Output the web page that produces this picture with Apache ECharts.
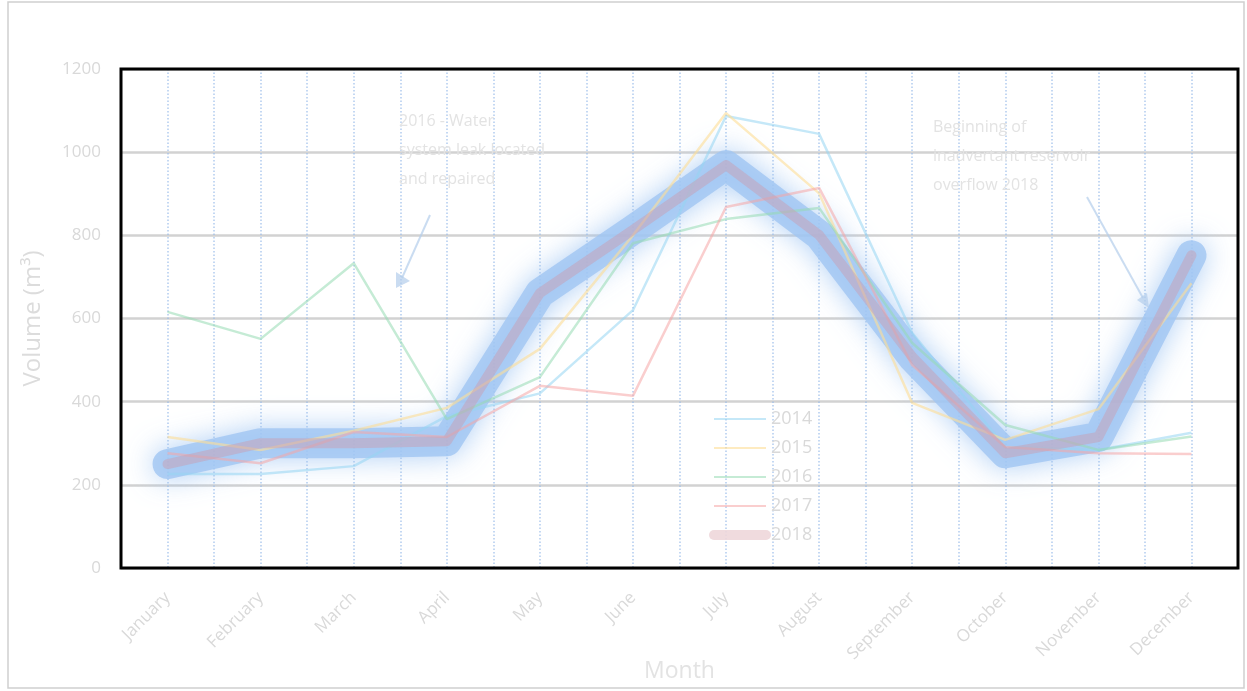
<!DOCTYPE html>
<html><head><meta charset="utf-8">
<script src="https://cdn.jsdelivr.net/npm/echarts@6/dist/echarts.min.js"></script>
<style>html,body{margin:0;padding:0;background:#fff}#c{width:1247px;height:691px}</style>
</head><body><div id="c"></div>
<script>
const months = ['January','February','March','April','May','June','July','August','September','October','November','December'];
const y2014 = [226, 226, 245, 365, 420, 620, 1087, 1044, 565, 291, 284, 325];
const y2015 = [315, 284, 330, 385, 527, 800, 1094, 901, 397, 308, 382, 685];
const y2016 = [616, 551, 733, 358, 459, 781, 839, 866, 541, 344, 284, 316];
const y2017 = [276, 252, 327, 315, 438, 414, 868, 914, 488, 291, 276, 274];
const y2018 = [250, 300, 300, 305, 661, 813, 969, 801, 508, 276, 315, 752];
const yTicks = [0, 200, 400, 600, 800, 1000, 1200];

const chart = echarts.init(document.getElementById('c'));
const lbl = '#d9d9d9';
function thin(name, data, color) {
  return {name, type:'line', data, symbol:'none', z:3,
    lineStyle:{color, width:2.5}, itemStyle:{color}};
}
chart.setOption({
  animation:false,
  backgroundColor:'#fff',
  grid:{left:121, top:69, right:9, bottom:123, show:true, borderColor:'#000', borderWidth:3, z:10,
    containLabel:false, outerBoundsMode:'none'},
  legend:{orient:'vertical', left:704, top:405, itemGap:11, itemWidth:52, itemHeight:18,
    textStyle:{color:lbl, fontSize:18, fontFamily:'Open Sans'},
    itemStyle:{opacity:0},
    data:['2014','2015','2016','2017',
      {name:'2018', lineStyle:{color:'rgba(238,215,218,0.9)', width:10, shadowBlur:0, shadowColor:'transparent'}}]},
  xAxis:[{type:'category', data:months, boundaryGap:true,
    name:'Month', nameLocation:'middle', nameGap:92, nameMoveOverlap:false,
    nameTextStyle:{color:'#e3e3e3', fontSize:23, fontFamily:'Open Sans'},
    axisLine:{show:false}, axisTick:{show:false}, splitLine:{show:false},
    axisLabel:{rotate:45, color:lbl, fontSize:17, fontFamily:'Open Sans', margin:27}},
   {type:'value', min:0, max:24, interval:1, position:'bottom', show:true,
    axisLabel:{show:false}, axisLine:{show:false}, axisTick:{show:false},
    splitLine:{show:true, lineStyle:{color:'rgba(150,185,232,0.75)', type:[1.5,2], width:1.5}}}],
  yAxis:{type:'value', min:yTicks[0], max:yTicks[yTicks.length-1], interval:200,
    name:'Volume (m³)', nameLocation:'middle', nameGap:76, nameMoveOverlap:false,
    nameTextStyle:{color:'#dcdcdc', fontSize:24, fontFamily:'Open Sans'},
    axisLine:{show:false}, axisTick:{show:false},
    axisLabel:{color:lbl, fontSize:17, fontFamily:'Open Sans', margin:20, formatter:v => String(v)},
    splitLine:{lineStyle:{color:'#d2d2d2', width:2.5}}},
  series:[
    thin('2014', y2014, 'rgba(150,214,242,0.55)'),
    thin('2015', y2015, 'rgba(253,222,150,0.6)'),
    thin('2016', y2016, 'rgba(150,218,178,0.55)'),
    thin('2017', y2017, 'rgba(246,165,165,0.55)'),
    {name:'2018', type:'line', data:y2018, symbol:'none', z:4,
     lineStyle:{color:'rgba(200,160,180,0.5)', width:10, cap:'round', join:'round'},
     itemStyle:{color:'rgba(235,205,210,0.6)'}},
    {name:'2018glow', type:'line', data:y2018, symbol:'none', z:1, silent:true,
     lineStyle:{color:'rgba(160,198,242,0.8)', width:30, cap:'round', join:'round',
       shadowBlur:28, shadowColor:'rgba(155,195,242,1)'}}
  ],
  graphic:[
    {type:'rect', shape:{x:8, y:2, width:1236, height:686}, style:{fill:'none', stroke:'#d0d0d0', lineWidth:1.5}, z:-1},
    {type:'text', left:399, top:107, z:20, style:{text:'2016 - Water\nsystem leak located\nand repaired', fill:'#e3e3e3', font:'16px "Open Sans"', lineHeight:29}},
    {type:'text', left:933, top:113, z:20, style:{text:'Beginning of\ninadvertant reservoir\noverflow 2018', fill:'#e3e3e3', font:'16px "Open Sans"', lineHeight:29}},
    {type:'line', z:20, shape:{x1:430, y1:215, x2:402, y2:278}, style:{stroke:'rgba(180,205,235,0.7)', lineWidth:2}},
    {type:'polygon', z:20, shape:{points:[[396,288],[396,272],[410,281]]}, style:{fill:'rgba(180,205,235,0.7)'}},
    {type:'line', z:20, shape:{x1:1087, y1:197, x2:1143, y2:298}, style:{stroke:'rgba(180,205,235,0.7)', lineWidth:2}},
    {type:'polygon', z:20, shape:{points:[[1149,308],[1137,300],[1147,293]]}, style:{fill:'rgba(180,205,235,0.7)'}}
  ]
});
</script></body></html>
